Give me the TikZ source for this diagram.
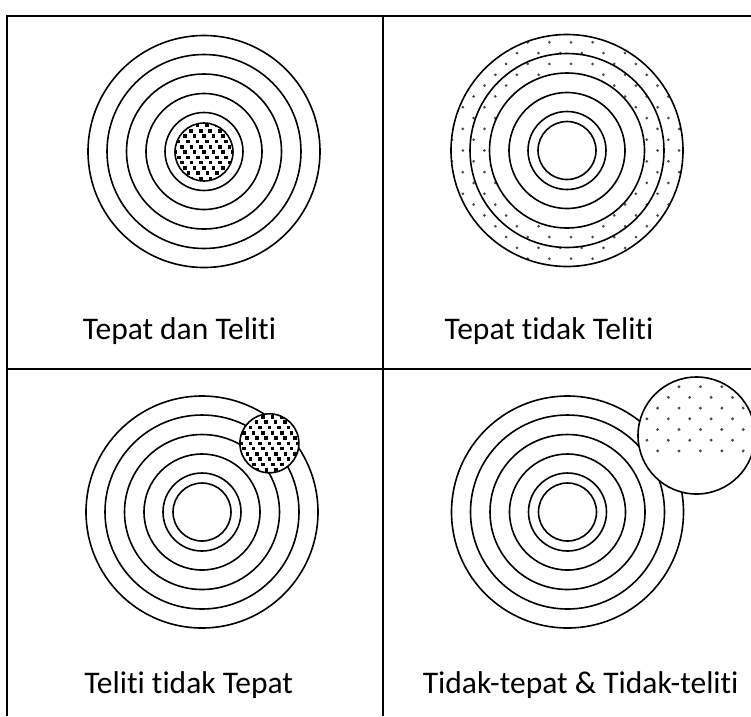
\documentclass[tikz,border=0pt]{standalone}
\usepackage{fontspec}
\setmainfont{Carlito}[Ligatures=NoCommon]
\begin{document}
\begin{tikzpicture}[x=1pt,y=-1pt,
  ring/.style={line width=1.6pt},
  rule/.style={line width=2.2pt},
  lbl/.style={font=\fontsize{31.5}{36}\selectfont, anchor=base, inner sep=0pt},
  dotc/.style={fill=black!70},
  sq/.style={fill=black}]
\useasboundingbox (0,0) rectangle (751,716);
% table rules
\draw[rule] (7.3,716) -- (7.3,15.7) -- (751,15.7);
\draw[rule] (383,15.7) -- (383,716);
\draw[rule] (7.3,369) -- (751,369);

% ---------- top-left: Tepat dan Teliti
\foreach \r in {116,97,77.5,58,39}{\draw[ring] (204,151.5) circle (\r);}
\begin{scope}
  \clip (204,152) circle (29);
  \foreach \j in {-7,...,7}{
    \foreach \i in {-7,...,7}{
      \pgfmathsetmacro\xx{204+9.5*\i+3.2*\j}
      \pgfmathsetmacro\yy{152+5.3*\j}
      \fill[sq] (\xx-1.8,\yy-1.8) rectangle (\xx+1.8,\yy+1.8);
    }}
\end{scope}
\draw[ring] (204,152) circle (29);
\node[lbl] (l1) at (179.5,339) {Tepat dan Teliti};

% ---------- top-right: Tepat tidak Teliti
\begin{scope}
  \clip (567,150.5) circle (116);
  \foreach \j in {-11,...,11}{
    \foreach \i in {-6,...,6}{
      \pgfmathsetmacro\xx{571+21.64*\i+mod(abs(\j),2)*10.82}
      \pgfmathsetmacro\yy{150.5+10.82*\j}
      \fill[dotc] (\xx,\yy) circle (1.5);
    }}
\end{scope}
\fill[white] (567,150.5) circle (77.5);
\foreach \r in {116,97,77.5,58,39,29}{\draw[ring] (567,150.5) circle (\r);}
\node[lbl] (l2) at (549,339) {Tepat tidak Teliti};

% ---------- bottom-left: Teliti tidak Tepat
\foreach \r in {116,97,77.5,58,39,29}{\draw[ring] (202,512) circle (\r);}
\fill[white] (269.4,443.3) circle (29.5);
\begin{scope}
  \clip (269.4,443.3) circle (29.5);
  \foreach \j in {-7,...,7}{
    \foreach \i in {-7,...,7}{
      \pgfmathsetmacro\xx{269.4+9.5*\i+3.2*\j}
      \pgfmathsetmacro\yy{443.3+5.3*\j}
      \fill[sq] (\xx-1.8,\yy-1.8) rectangle (\xx+1.8,\yy+1.8);
    }}
\end{scope}
\draw[ring] (269.4,443.3) circle (29.5);
\node[lbl] (l3) at (188.7,693) {Teliti tidak Tepat};

% ---------- bottom-right: Tidak-tepat & Tidak-teliti
\foreach \r in {116,97,77.5,58,39,29}{\draw[ring] (567.5,512) circle (\r);}
\fill[white] (696.5,435.5) circle (58.5);
\begin{scope}
  \clip (696.5,435.5) circle (58.5);
  \foreach \j in {-6,...,6}{
    \foreach \i in {-4,...,4}{
      \pgfmathsetmacro\xx{679+21.4*\i+mod(abs(\j),2)*10.7}
      \pgfmathsetmacro\yy{386.7+10.7*(\j+5)}
      \fill[dotc] (\xx,\yy-53.5) circle (1.6);
    }}
\end{scope}
\draw[ring] (696.5,435.5) circle (58.5);
\node[lbl] (l4) at (580.7,693) {Tidak-tepat \& Tidak-teliti};
\end{tikzpicture}
\end{document}
